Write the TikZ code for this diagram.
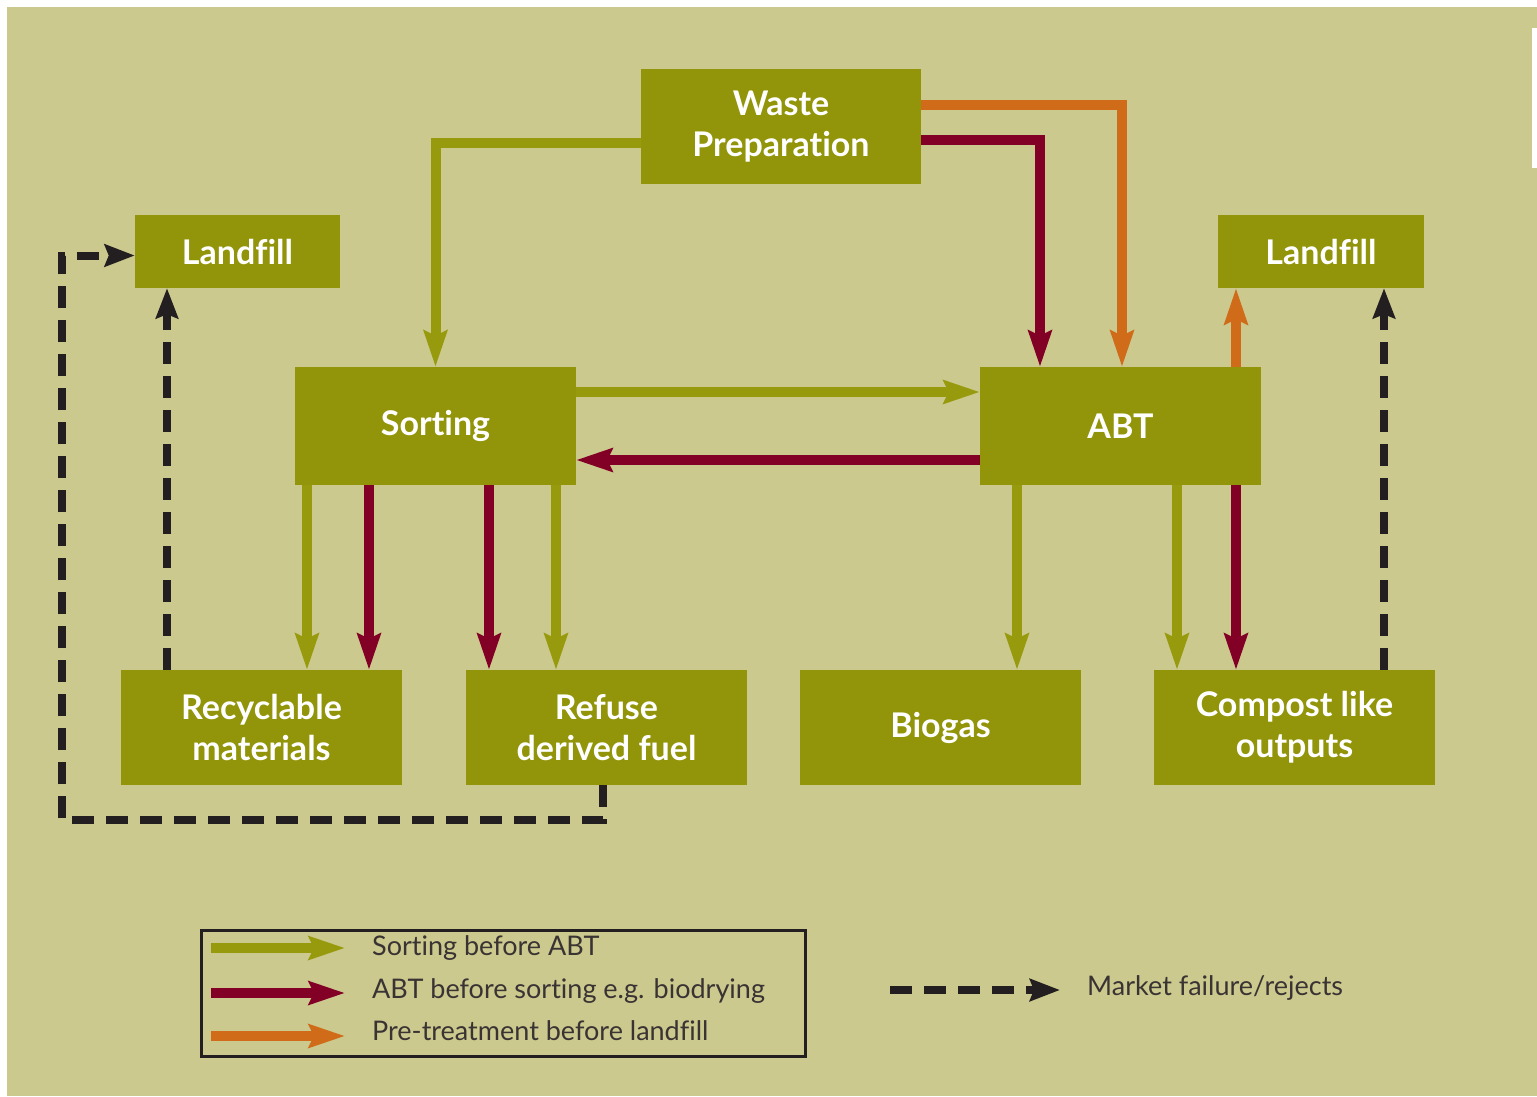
\documentclass[tikz,border=0pt]{standalone}
\usepackage{fontspec}
\setmainfont{Lato}[Ligatures=NoCommon]
\usetikzlibrary{arrows.meta,calc}
\definecolor{bg}{HTML}{CBC98D}
\definecolor{boxc}{HTML}{929409}
\definecolor{grnc}{HTML}{979A0C}
\definecolor{marc}{HTML}{820026}
\definecolor{orac}{HTML}{D06B1A}
\definecolor{blkc}{HTML}{231F20}
\definecolor{txtc}{HTML}{3A3334}
\tikzset{
  boxnode/.style={fill=boxc,text=white,inner sep=0pt,align=center,
    font=\fontsize{34}{41}\selectfont\bfseries,minimum width=281pt,minimum height=115pt},
  flow/.style={line width=10pt,-{Stealth[length=36pt,width=23pt,inset=5pt]}},
  grn/.style={flow,draw=grnc},
  mar/.style={flow,draw=marc},
  ora/.style={flow,draw=orac},
  rej/.style={line width=8pt,draw=blkc,dash pattern=on 22pt off 12pt,
    -{Stealth[length=30pt,width=22pt,inset=4pt]}},
  legtext/.style={anchor=west,text=txtc,inner sep=0pt,font=\fontsize{27}{30}\selectfont}
}
\begin{document}
\begin{tikzpicture}[x=1pt,y=-1pt]
\useasboundingbox (0,0) rectangle (1537,1096);
\fill[white] (0,0) rectangle (1537,1096);
\fill[bg] (7,7) rectangle (1537,1096);
\fill[white] (1532,28) rectangle (1537,168);
% nodes
\node[boxnode,minimum width=280pt] (wp) at (781,126.5) {Waste\\Preparation};
\node[boxnode,minimum width=205pt,minimum height=73pt] (lfL) at (237.5,251.5) {Landfill};
\node[boxnode,minimum width=206pt,minimum height=73pt] (lfR) at (1321,251.5) {Landfill};
\node[boxnode,minimum height=118pt] (sort) at (435.5,426) {Sorting};
\node[boxnode,minimum height=118pt] (abt) at (1120.5,426) {ABT};
\node[boxnode] (rec) at (261.5,727.5) {Recyclable\\materials};
\node[boxnode] (rdf) at (606.5,727.5) {Refuse\\derived fuel};
\node[boxnode] (bio) at (940.5,727.5) {Biogas};
\node[boxnode] (comp) at (1294.5,727.5) {Compost like\\outputs};
% top connectors
\draw[grn] ($(wp.west)+(0,16.5)$) -| (sort.north);
\draw[ora] ($(wp.east)+(0,-21.5)$) -| ($(abt.north)+(1.5,0)$);
\draw[mar] ($(wp.east)+(0,13.5)$) -| ($(abt.north)+(-80.5,0)$);
% sorting <-> ABT
\draw[grn] ($(sort.east)+(0,-34)$) coordinate (g1) -- (abt.west |- g1);
\draw[mar] ($(abt.west)+(0,34)$) coordinate (m1) -- (sort.east |- m1);
% sorting outputs
\draw[grn] ($(sort.south)+(-128.5,0)$) coordinate (s1) -- (s1 |- rec.north);
\draw[mar] ($(sort.south)+(-66.5,0)$) coordinate (s2) -- (s2 |- rec.north);
\draw[mar] ($(sort.south)+(53.5,0)$) coordinate (s3) -- (s3 |- rdf.north);
\draw[grn] ($(sort.south)+(120.5,0)$) coordinate (s4) -- (s4 |- rdf.north);
% ABT outputs
\draw[grn] ($(abt.south)+(-103.5,0)$) coordinate (a1) -- (a1 |- bio.north);
\draw[grn] ($(abt.south)+(56.5,0)$) coordinate (a2) -- (a2 |- comp.north);
\draw[mar] ($(abt.south)+(115.5,0)$) coordinate (a3) -- (a3 |- comp.north);
\draw[ora] ($(abt.north)+(115.5,0)$) coordinate (a4) -- (a4 |- lfR.south);
% rejects
\draw[rej] ($(comp.north)+(89.5,0)$) coordinate (r1) -- (r1 |- lfR.south);
\draw[rej] ($(rec.north)+(-94.5,0)$) coordinate (r2) -- (r2 |- lfL.south);
\draw[rej] ($(rdf.south)+(-3.5,0)$) -- ++(0,35) -| ($(lfL.west)+(-73,4)$) coordinate (r3) -- (lfL.west |- r3);
% legend
\node[draw=blkc,line width=3pt,minimum width=604pt,minimum height=126pt,inner sep=0pt] (leg) at (503,993) {};
\coordinate (lg1) at (211,948);
\coordinate (lg1e) at (345,948);
\coordinate (lg2) at (211,993);
\coordinate (lg2e) at (345,993);
\coordinate (lg3) at (211,1036);
\coordinate (lg3e) at (345,1036);
\draw[grn] (lg1) -- (lg1e);
\draw[mar] (lg2) -- (lg2e);
\draw[ora] (lg3) -- (lg3e);
\node[legtext] (t1) at (372,948) {Sorting before ABT};
\node[legtext] (t2) at (372,991) {ABT before sorting e.g. biodrying};
\node[legtext] (t3) at (372,1031) {Pre-treatment before landfill};
\coordinate (lr1) at (890,990);
\coordinate (lr1e) at (1060,990);
\draw[rej] (lr1) -- (lr1e);
\node[legtext] (t4) at (1087,988) {Market failure/rejects};
\end{tikzpicture}
\end{document}
